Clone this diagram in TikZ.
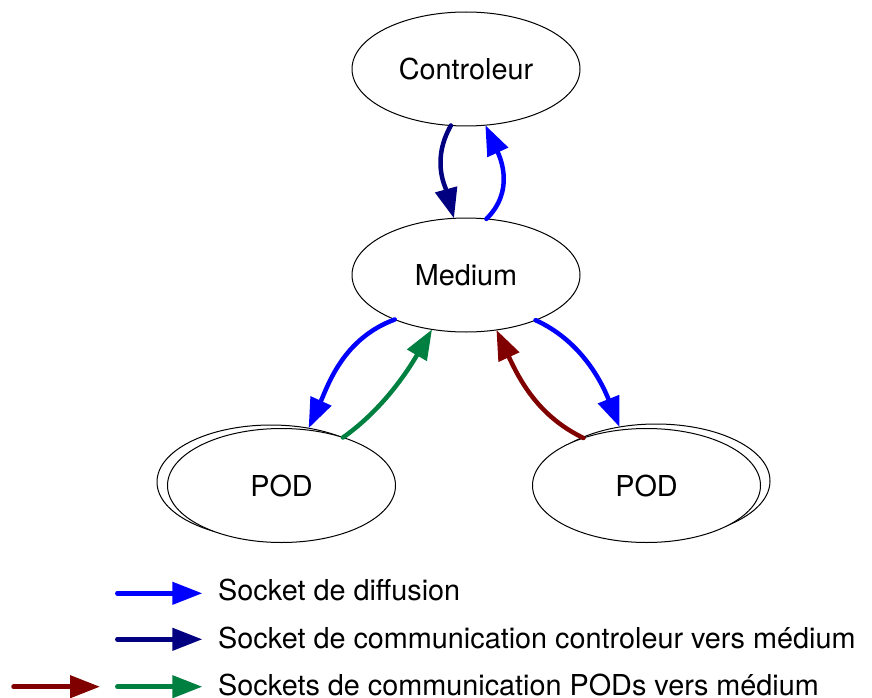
\documentclass[tikz,border=0pt]{standalone}
\usepackage{fontspec}
\setmainfont{TeX Gyre Heros}
\usetikzlibrary{arrows.meta,shapes.geometric}
\definecolor{diffblue}{HTML}{0000FF}
\definecolor{ctrlnavy}{HTML}{000080}
\definecolor{podred}{HTML}{800000}
\definecolor{podgreen}{HTML}{008040}
\begin{document}
\begin{tikzpicture}[x=1pt,y=-1pt,
  state/.style={ellipse,draw=black,line width=1pt,fill=white,
    minimum width=228pt,minimum height=114pt,inner sep=0pt,outer sep=0pt,
    font=\fontsize{28.8}{34}\selectfont},
  link/.style={line width=4.5pt,line cap=round,
    -{Triangle[length=30pt,width=22pt]}},
  legendtext/.style={anchor=base west,inner sep=0pt,
    font=\fontsize{28.8}{34}\selectfont}]
\useasboundingbox (0,0) rectangle (872,698);

% states
\node[state] (ctrl) at (466,69) {Controleur};
\node[state] (medium) at (466,275) {Medium};
\node[state] (podLback) at (271,482) {};
\node[state] (podL) at (281.5,485.5) {POD};
\node[state] (podRback) at (656,481) {};
\node[state] (podR) at (646.5,485.5) {POD};

% sockets between controller and medium
\draw[link,ctrlnavy] (ctrl.255.7) .. controls +(-19.7,35) and +(-8.7,-32) .. (medium.102.9);
\draw[link,diffblue] (medium.70) .. controls +(28.3,-28) and +(15.3,33.3) .. (ctrl.289.7);

% sockets between medium and the PODs
\draw[link,diffblue] (medium.212.5) .. controls +(-52,19) and +(19,-42) .. (podLback.55.4);
\draw[link,podgreen] (podL.38) .. controls +(32.3,-22.7) and +(-31,53) .. (medium.238.4);
\draw[link,podred] (podR.143.6) .. controls +(-43.5,-21) and +(24.4,53) .. (medium.299);
\draw[link,diffblue] (medium.327.3) .. controls +(44,20) and +(-19,-47.7) .. (podRback.124.8);

% legend
\coordinate (l1a) at (117.3,593.3);
\coordinate (l1b) at (202.3,593.3);
\coordinate (l2a) at (117.3,639.3);
\coordinate (l2b) at (202.3,639.3);
\coordinate (l3a) at (13.5,686.7);
\coordinate (l3b) at (100,686.7);
\coordinate (l4a) at (117.3,686.7);
\coordinate (l4b) at (202.3,686.7);
\draw[link,diffblue] (l1a) -- (l1b);
\draw[link,ctrlnavy] (l2a) -- (l2b);
\draw[link,podred] (l3a) -- (l3b);
\draw[link,podgreen] (l4a) -- (l4b);
\node[legendtext] (t1) at (218,600) {Socket de diffusion};
\node[legendtext] (t2) at (218,648.3) {Socket de communication controleur vers médium};
\node[legendtext] (t3) at (218,695) {Sockets de communication PODs vers médium};
\end{tikzpicture}
\end{document}
